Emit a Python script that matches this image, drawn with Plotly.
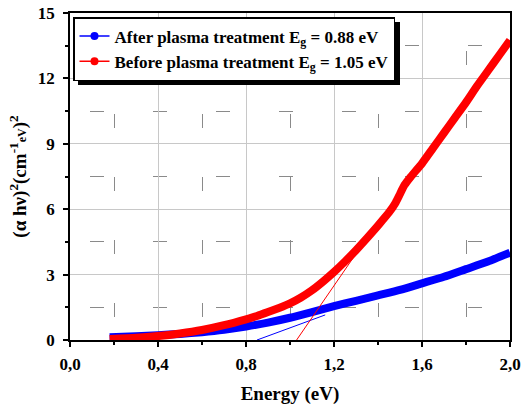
import plotly.graph_objects as go

# ---- data ----
energy_after = [0.18, 0.3, 0.4, 0.5, 0.6, 0.7, 0.8, 0.9, 1.0, 1.1, 1.2, 1.3, 1.4, 1.5, 1.6, 1.7, 1.8, 1.9, 2.0]
ahv2_after = [0.13, 0.17, 0.22, 0.28, 0.36, 0.47, 0.62, 0.8, 1.02, 1.28, 1.55, 1.8, 2.05, 2.3, 2.6, 2.9, 3.25, 3.6, 4.0]

energy_before = [0.18, 0.3, 0.4, 0.5, 0.6, 0.7, 0.8, 0.85, 0.9, 0.95, 1.0, 1.05, 1.1, 1.15, 1.2, 1.25, 1.3, 1.35,
                 1.4, 1.45, 1.48, 1.5, 1.52, 1.55, 1.6, 1.65, 1.7, 1.75, 1.8, 1.85, 1.9, 1.95, 2.0]
ahv2_before = [0.05, 0.1, 0.18, 0.3, 0.46, 0.68, 0.95, 1.1, 1.28, 1.47, 1.68, 1.95, 2.28, 2.68, 3.12, 3.6, 4.12, 4.67,
               5.25, 5.85, 6.3, 6.7, 7.1, 7.5, 8.1, 8.8, 9.5, 10.2, 10.9, 11.65, 12.35, 13.05, 13.75]

tangent_after_x = [0.85, 1.16]
tangent_after_y = [0.0, 1.15]
tangent_before_x = [1.03, 1.32]
tangent_before_y = [0.0, 4.25]

label_after = "After plasma treatment E<sub>g</sub> = 0.88 eV"
label_before = "Before plasma treatment E<sub>g</sub> = 1.05 eV"

x_ticks = [0.0, 0.4, 0.8, 1.2, 1.6, 2.0]
x_ticktext = ["0,0", "0,4", "0,8", "1,2", "1,6", "2,0"]
y_ticks = [0, 3, 6, 9, 12, 15]

BLUE = "#0000ff"
RED = "#ff0000"
SERIF = "Liberation Serif"

fig = go.Figure()

# thick data curves
fig.add_trace(go.Scatter(x=energy_after, y=ahv2_after, mode="lines",
                         line=dict(color=BLUE, width=8, shape="spline", smoothing=0.5),
                         showlegend=False, hoverinfo="skip"))
fig.add_trace(go.Scatter(x=energy_before, y=ahv2_before, mode="lines",
                         line=dict(color=RED, width=8, shape="spline", smoothing=0.5),
                         showlegend=False, hoverinfo="skip"))
# tangent lines
fig.add_trace(go.Scatter(x=tangent_after_x, y=tangent_after_y, mode="lines",
                         line=dict(color=BLUE, width=1), showlegend=False, hoverinfo="skip"))
fig.add_trace(go.Scatter(x=tangent_before_x, y=tangent_before_y, mode="lines",
                         line=dict(color=RED, width=1), showlegend=False, hoverinfo="skip"))
# legend entries
fig.add_trace(go.Scatter(x=[None], y=[None], mode="lines+markers", name=label_after,
                         line=dict(color=BLUE, width=1.5), marker=dict(color=BLUE, size=8),
                         legendgroup="a"))
fig.add_trace(go.Scatter(x=[None], y=[None], mode="lines+markers", name=label_before,
                         line=dict(color=RED, width=1.5), marker=dict(color=RED, size=8),
                         legendgroup="b"))

L, R, T, B = 70, 13, 13, 72
W, H = 523, 412
PW, PH = W - L - R, H - T - B

def px2x(p):
    return (p - L) / PW

def py2y(p):
    return (H - B - p) / PH

# legend shadow
fig.add_shape(type="rect", xref="paper", yref="paper",
              x0=px2x(78), x1=px2x(400), y0=py2y(85), y1=py2y(22),
              fillcolor="black", opacity=1, line=dict(width=0), layer="above")

axis_common = dict(showline=True, linecolor="black", linewidth=1.5, mirror=True,
                   ticks="outside", ticklen=5, tickwidth=1.5, tickcolor="black",
                   showgrid=True, gridcolor="#c8c8c8", gridwidth=1, zeroline=False,
                   tickfont=dict(family=SERIF, size=17, color="black", weight="bold"))

fig.update_xaxes(range=[0, 2.0], tickvals=x_ticks, ticktext=x_ticktext, ticklabelstandoff=3,
                 title=dict(text="Energy (eV)", standoff=14,
                            font=dict(family=SERIF, size=19, color="black", weight="bold")),
                 minor=dict(dtick=0.2, tick0=0, ticks="outside", ticklen=3, tickcolor="black",
                            showgrid=True, gridcolor="#8a8a8a", gridwidth=1.2,
                            griddash="0px,38px,14px,11px"),
                 **axis_common)
fig.update_yaxes(range=[0, 15], tickvals=y_ticks, ticklabelstandoff=5,
                 title=dict(text="(\u03b1 h\u03bd)<sup>2</sup>(cm<sup>-1</sup><span style='font-size:12px'>eV</span>)<sup>2</sup>",
                            standoff=6,
                            font=dict(family=SERIF, size=19, color="black", weight="bold")),
                 minor=dict(dtick=1.5, tick0=0, ticks="outside", ticklen=3, tickcolor="black",
                            showgrid=True, gridcolor="#8a8a8a", gridwidth=1.2,
                            griddash="0px,20px,14px,29px"),
                 **axis_common)

fig.update_layout(
    width=W, height=H,
    margin=dict(l=L, r=R, t=T, b=B, autoexpand=False),
    paper_bgcolor="white", plot_bgcolor="white",
    legend=dict(x=px2x(73), y=py2y(17), xanchor="left", yanchor="top",
                bgcolor="white", bordercolor="black", borderwidth=1.5,
                font=dict(family=SERIF, size=17, color="black", weight="bold"),
                tracegroupgap=0, itemwidth=30),
)

fig.write_html("out.html")
